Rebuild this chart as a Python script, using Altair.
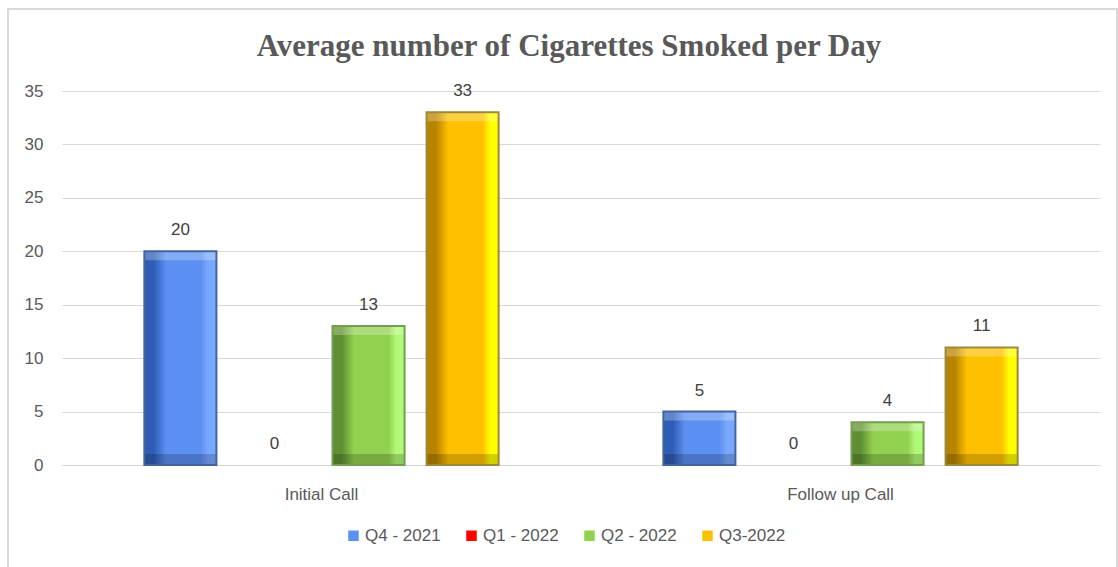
import altair as alt
import pandas as pd

groups = ["Initial Call", "Follow up Call"]
series = ["Q4 - 2021", "Q1 - 2022", "Q2 - 2022", "Q3-2022"]
values_initial = [20, 0, 13, 33]
values_follow = [5, 0, 4, 11]
base_colors = ["#5b8ff2", "#ff0000", "#92d050", "#ffc000"]
dark_colors = ["#2f5cb4", "#b00000", "#5f8f32", "#b88400"]
light_colors = ["#78a8ff", "#ff5050", "#b0f878", "#ffff00"]
edge_colors = ["#41669f", "#a00000", "#74a04c", "#9c8a3a"]

rows = []
for g, vals in zip(groups, [values_initial, values_follow]):
    for s, v in zip(series, vals):
        rows.append({"group": g, "series": s, "value": v, "zero": 0})
df = pd.DataFrame(rows)

W, H = 1038, 374
PL, PT = 62, 91
FONT = "Liberation Sans"

x_enc = alt.X(
    "group:N", sort=groups, title=None,
    scale=alt.Scale(paddingInner=0.275, paddingOuter=0.1375),
    axis=alt.Axis(labelAngle=0, ticks=False, domain=True, domainColor="#d9d9d9",
                  domainWidth=1, labelPadding=21, labelFontSize=17,
                  labelColor="#595959", labelFont=FONT, grid=False),
)
xo_enc = alt.XOffset("series:N", sort=series,
                     scale=alt.Scale(domain=series, paddingInner=0.234, paddingOuter=0.117))
y_scale = alt.Scale(domain=[0, 35], nice=False)
y_axis = alt.Axis(values=[0, 5, 10, 15, 20, 25, 30, 35], domain=False, ticks=False,
                  labelPadding=19, labelFontSize=17, labelColor="#595959",
                  labelFont=FONT, gridColor="#d9d9d9", gridWidth=1)
y_enc = alt.Y("value:Q", title=None, scale=y_scale, axis=y_axis)

base = alt.Chart(df)

bars = base.mark_bar().encode(
    x=x_enc, xOffset=xo_enc, y=y_enc,
    color=alt.Color("series:N", sort=series,
                    scale=alt.Scale(domain=series, range=base_colors),
                    legend=alt.Legend(title=None, orient="none", direction="horizontal",
                                      legendX=283, legendY=436, symbolType="square",
                                      symbolSize=110, symbolStrokeWidth=0,
                                      labelFontSize=17, labelColor="#595959",
                                      labelFont=FONT, columnPadding=22,
                                      symbolOffset=0, labelOffset=3)),
)

layers = [bars]
for s, b, d, l in zip(series, base_colors, dark_colors, light_colors):
    grad = alt.Gradient(
        gradient="linear", x1=0, x2=1, y1=0, y2=0,
        stops=[alt.GradientStop(offset=0, color=d),
               alt.GradientStop(offset=0.13, color=d),
               alt.GradientStop(offset=0.3, color=b),
               alt.GradientStop(offset=0.78, color=b),
               alt.GradientStop(offset=0.88, color=l),
               alt.GradientStop(offset=1, color=l)],
    )
    filt = (alt.datum.series == s) & (alt.datum.value > 0)
    layers.append(
        base.transform_filter(filt)
        .mark_bar(color=grad)
        .encode(x=x_enc, xOffset=xo_enc, y=y_enc)
    )

# bevel strips (top light, bottom dark)
pos = base.transform_filter(alt.datum.value > 0)
top_strip = pos.mark_bar(color="white", opacity=0.25, y2Offset=9).encode(
    x=x_enc, xOffset=xo_enc, y=y_enc, y2=alt.Y2("value:Q")
)
bottom_strip = pos.mark_bar(color="black", opacity=0.18, y2Offset=-11).encode(
    x=x_enc, xOffset=xo_enc, y=alt.Y("zero:Q", title=None, scale=y_scale, axis=y_axis),
    y2=alt.Y2("zero:Q")
)
outline = pos.mark_bar(fill=None, strokeWidth=2).encode(
    x=x_enc, xOffset=xo_enc, y=y_enc,
    stroke=alt.Stroke("series:N", sort=series,
                      scale=alt.Scale(domain=series, range=edge_colors), legend=None),
)
layers += [top_strip, bottom_strip, outline]

labels = base.mark_text(fontSize=17, color="#404040", font=FONT,
                        baseline="middle", dy=-21).encode(
    x=x_enc, xOffset=xo_enc, y=y_enc, text="value:Q"
)
layers.append(labels)

border = alt.Chart(alt.Data(values=[{}])).mark_rect(
    fill=None, stroke="#d9d9d9", strokeWidth=2
).encode(
    x=alt.value(8 - PL), x2=alt.value(1117 - PL),
    y=alt.value(9 - PT), y2=alt.value(700),
)

title = alt.Chart(alt.Data(values=[{"t": "Average number of Cigarettes Smoked per Day"}])).mark_text(
    font="Liberation Serif", fontWeight="bold", fontSize=31, color="#595959",
    baseline="middle", align="center"
).encode(x=alt.value(569 - PL), y=alt.value(47 - PT), text="t:N")

chart = alt.layer(border, *layers, title).properties(
    width=W, height=H,
    background="white",
    autosize=alt.AutoSizeParams(type="none"),
    padding={"left": PL, "top": PT, "right": 1118 - PL - W, "bottom": 567 - PT - H},
).configure_view(strokeWidth=0, stroke=None)

chart.save("out.html", embed_options={"renderer": "svg", "actions": False})
